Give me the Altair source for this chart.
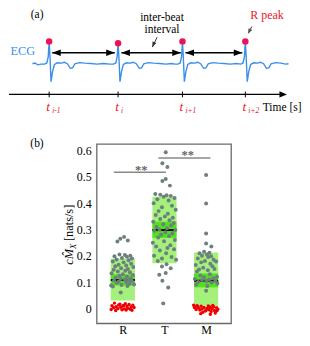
import altair as alt
import pandas as pd

SERIF = "Liberation Serif"
BLUE = "#3b8fe8"
RED = "#e8192c"
PEAK = "#ee1155"
GRAY_PT = "#6e7f80"
LIGHT_G = "#a3f07a"
DARK_G = "#4fe31a"

# ---------------- panel (a): ECG schematic ----------------
ecg_t = [
    -0.22, -0.19, -0.15, -0.11,
    -0.06, -0.03, -0.012, 0.0, 0.012, 0.025, 0.045, 0.07, 0.11, 0.16, 0.20, 0.24, 0.28, 0.31, 0.34, 0.40, 0.47, 0.55, 0.63, 0.72, 0.80,
    0.85, 0.88, 0.898, 0.91, 0.922, 0.935, 0.955, 0.98, 1.02, 1.07, 1.11, 1.15, 1.19, 1.22, 1.25, 1.31, 1.38, 1.46, 1.54, 1.62, 1.66,
    1.70, 1.73, 1.748, 1.76, 1.772, 1.785, 1.805, 1.83, 1.87, 1.92, 1.96, 2.00, 2.04, 2.07, 2.10, 2.16, 2.23, 2.31, 2.39, 2.47,
    2.53, 2.56, 2.578, 2.59, 2.602, 2.615, 2.635, 2.66, 2.70, 2.75, 2.79, 2.83, 2.87, 2.90, 2.93, 2.99, 3.06, 3.12, 3.16]
ecg_v = [
    0.02, 0.06, -0.04, 0.0,
    0.0, 0.06, 0.4, 1.2, 0.3, -0.93, -0.4, -0.02, 0.07, 0.05, 0.1, 0.02, -0.22, -0.2, 0.02, 0.08, 0.05, 0.03, 0.0, 0.03, 0.0,
    0.0, 0.06, 0.4, 1.1, 0.3, -0.93, -0.4, -0.02, 0.07, 0.05, 0.1, 0.02, -0.22, -0.2, 0.02, 0.08, 0.05, 0.03, 0.0, 0.03, 0.0,
    0.0, 0.06, 0.4, 1.2, 0.3, -0.93, -0.4, -0.02, 0.07, 0.05, 0.1, 0.02, -0.22, -0.2, 0.02, 0.08, 0.05, 0.03, 0.0, 0.03,
    0.0, 0.06, 0.4, 1.2, 0.3, -0.93, -0.4, -0.02, 0.07, 0.05, 0.1, 0.02, -0.22, -0.2, 0.02, 0.08, 0.05, 0.0, 0.02]
peak_t = [0.0, 0.91, 1.76, 2.59]
peak_v = [1.2, 1.1, 1.2, 1.2]
sub_labels = ["i-1", "i", "i+1", "i+2"]
ibi_t1 = [0.041, 0.954, 1.80]
ibi_t2 = [0.866, 1.738, 2.55]
ibi_v = [0.6, 0.6, 0.6]
time_axis_t = [-0.53, 3.09]
time_axis_v = -1.6
tick_v = [-1.45, -1.75]

xs_a = alt.Scale(domain=[-0.53, 3.338], nice=False, zero=False)
ys_a = alt.Scale(domain=[-3.803, 2.934], nice=False, zero=False)


def XA(f):
    return alt.X(f"{f}:Q", scale=xs_a, axis=None)


def YA(f):
    return alt.Y(f"{f}:Q", scale=ys_a, axis=None)


def pt(t, v):
    return pd.DataFrame({"t": t if isinstance(t, list) else [t], "v": v if isinstance(v, list) else [v]})


RIGHT_HEAD = "M-1,-0.75L1,0L-1,0.75Z"
LEFT_HEAD = "M1,-0.75L-1,0L1,0.75Z"
DOWN_HEAD = "M-0.8,-1L0,1L0.8,-1Z"

ecg = alt.Chart(pt(ecg_t, ecg_v)).mark_line(color=BLUE, strokeWidth=1.4).encode(x=XA("t"), y=YA("v"))
peaks = alt.Chart(pt(peak_t, peak_v)).mark_point(filled=True, color=PEAK, size=42, opacity=1).encode(x=XA("t"), y=YA("v"))

ibi_df = pd.DataFrame({"t": ibi_t1, "t2": ibi_t2, "v": ibi_v})
ibi_lines = alt.Chart(ibi_df).mark_rule(color="black", strokeWidth=1.4).encode(x=XA("t"), x2="t2", y=YA("v"))
head_l = alt.Chart(pt([a + 0.056 for a in ibi_t1], ibi_v)).mark_point(
    shape=LEFT_HEAD, filled=True, color="black", size=74, opacity=1).encode(x=XA("t"), y=YA("v"))
head_r = alt.Chart(pt([b - 0.056 for b in ibi_t2], ibi_v)).mark_point(
    shape=RIGHT_HEAD, filled=True, color="black", size=74, opacity=1).encode(x=XA("t"), y=YA("v"))

tax = alt.Chart(pd.DataFrame({"t": [time_axis_t[0]], "t2": [time_axis_t[1]], "v": [time_axis_v]})).mark_rule(
    color="black", strokeWidth=1.2).encode(x=XA("t"), x2="t2", y=YA("v"))
tax_head = alt.Chart(pt(time_axis_t[1], time_axis_v)).mark_point(
    shape="M-1,-0.8L1,0L-1,0.8Z", filled=True, color="black", size=58, opacity=1).encode(x=XA("t"), y=YA("v"))
ticks_df = pd.DataFrame({"t": peak_t, "v": [tick_v[0]] * 4, "v2": [tick_v[1]] * 4})
ticks = alt.Chart(ticks_df).mark_rule(color="black", strokeWidth=1).encode(x=XA("t"), y=YA("v"), y2="v2")

tlab = alt.Chart(pt(peak_t, [-2.5] * 4)).mark_text(
    text="t", font=SERIF, fontStyle="italic", fontSize=13.5, color=RED, align="center", baseline="alphabetic", dx=-1
).encode(x=XA("t"), y=YA("v"))
sub_df = pd.DataFrame({"t": peak_t, "v": [-2.6] * 4, "s": sub_labels})
tsub = alt.Chart(sub_df).mark_text(
    font=SERIF, fontStyle="italic", fontSize=7.5, color=RED, align="left", baseline="alphabetic", dx=3
).encode(x=XA("t"), y=YA("v"), text="s:N")

time_lbl = alt.Chart(pt(2.82, -2.45)).mark_text(
    text="Time [s]", font=SERIF, fontSize=11.5, color="black", align="left", baseline="alphabetic").encode(x=XA("t"), y=YA("v"))
ecg_lbl = alt.Chart(pt(-0.51, 0.685)).mark_text(
    text="ECG", font=SERIF, fontSize=12.4, color=BLUE, align="left", baseline="middle").encode(x=XA("t"), y=YA("v"))
a_lbl = alt.Chart(pt(-0.159, 2.57)).mark_text(
    text="(a)", font=SERIF, fontSize=11.5, color="black", align="center", baseline="middle").encode(x=XA("t"), y=YA("v"))
ib1 = alt.Chart(pt(1.49, 2.43)).mark_text(
    text="inter-beat", font=SERIF, fontSize=11.5, color="black",
    align="center", baseline="middle").encode(x=XA("t"), y=YA("v"))
ib2 = alt.Chart(pt(1.49, 1.78)).mark_text(
    text="interval", font=SERIF, fontSize=11.5, color="black",
    align="center", baseline="middle").encode(x=XA("t"), y=YA("v"))
rp = alt.Chart(pt(2.876, 2.6)).mark_text(
    text="R peak", font=SERIF, fontSize=12, color=RED, align="center", baseline="middle").encode(x=XA("t"), y=YA("v"))

ptr_df = pd.DataFrame({"t": [1.425, 2.675], "t2": [1.3625, 2.633], "v": [1.42, 1.985], "v2": [0.9, 1.65]})
ptr = alt.Chart(ptr_df).mark_rule(color="#333333", strokeWidth=1).encode(x=XA("t"), x2="t2", y=YA("v"), y2="v2")
ptr_h1 = alt.Chart(pt(1.376, 1.025)).mark_point(
    shape=DOWN_HEAD, filled=True, color="#333333", size=28, angle=23, opacity=1).encode(x=XA("t"), y=YA("v"))
ptr_h2 = alt.Chart(pt(2.641, 1.725)).mark_point(
    shape=DOWN_HEAD, filled=True, color="#555555", size=28, angle=27, opacity=1).encode(x=XA("t"), y=YA("v"))

top = alt.layer(ecg, ibi_lines, head_l, head_r, peaks, tax, tax_head, ticks, tlab, tsub, time_lbl,
                ecg_lbl, a_lbl, ib1, ib2, rp, ptr, ptr_h1, ptr_h2).properties(width=294, height=128)

# ---------------- panel (b): cM_X distribution ----------------
groups = ["R", "T", "M"]
group_pos = [1, 2, 3]
box_lo = [0.03, 0.172, 0.01]
box_hi = [0.19, 0.425, 0.213]
ci_lo = [0.087, 0.268, 0.08]
ci_hi = [0.13, 0.33, 0.133]
medians = [0.108, 0.298, 0.105]

rg_y = [0.272, 0.265, 0.258, 0.254, 0.205, 0.203, 0.200, 0.198, 0.196, 0.192, 0.190, 0.186, 0.183,
        0.178, 0.175, 0.170, 0.166, 0.163, 0.160, 0.157, 0.153, 0.150, 0.147,
        0.143, 0.140, 0.137, 0.134, 0.130, 0.127, 0.124, 0.120, 0.117, 0.114,
        0.112, 0.110, 0.108, 0.106, 0.104, 0.102, 0.100, 0.097, 0.094, 0.091,
        0.089, 0.087, 0.085, 0.083, 0.060]
rg_dx = [0.03, -0.06, 0.12, -0.13, -0.08, 0.05, 0.18, -0.2, 0.1, -0.02, 0.22, -0.15, 0.14,
         -0.24, 0.02, 0.2, -0.1, 0.08, -0.18, 0.25, -0.04, 0.12, -0.22,
         0.06, -0.12, 0.17, -0.27, 0.0, 0.24, -0.08, 0.1, -0.17, 0.19,
         -0.05, 0.05, 0.14, -0.21, 0.22, -0.1, 0.08, -0.14, 0.16, 0.27,
         -0.03, -0.28, 0.11, -0.24, -0.05]
rr_y = [0.02, 0.018, 0.015, 0.013, 0.012, 0.01, 0.009, 0.008, 0.006, 0.005, 0.004, 0.003, 0.002, 0.0,
        -0.001, -0.002, -0.003, -0.004, -0.005, -0.006, -0.007, -0.008, 0.016, 0.011]
rr_dx = [-0.2, 0.06, 0.15, -0.1, 0.24, -0.26, 0.0, 0.1, -0.16, 0.2, -0.05, 0.27, -0.22, 0.12,
         -0.12, 0.04, 0.18, -0.28, -0.02, 0.08, 0.22, -0.17, -0.07, 0.02]
tg_y = [0.594, 0.552, 0.538, 0.492, 0.485, 0.467,
        0.435, 0.432, 0.430, 0.428, 0.425, 0.420, 0.415, 0.410, 0.400, 0.390,
        0.385, 0.375, 0.370, 0.360, 0.355, 0.350, 0.345, 0.340, 0.335, 0.330,
        0.325, 0.320, 0.315, 0.310, 0.305, 0.300, 0.298, 0.295, 0.290, 0.285,
        0.280, 0.275, 0.270, 0.260, 0.255, 0.250, 0.240, 0.235, 0.230, 0.225,
        0.220, 0.210, 0.200, 0.195, 0.190, 0.185, 0.180,
        0.168, 0.159, 0.153, 0.135, 0.128, 0.105, 0.079, 0.019]
tg_dx = [0.03, -0.05, 0.07, 0.03, -0.05, 0.13,
         -0.22, -0.1, 0.05, 0.15, -0.02, 0.24, -0.17, 0.1, -0.26, 0.18,
         -0.06, 0.27, -0.14, 0.08, -0.21, 0.01, 0.2, -0.1, 0.12, -0.27,
         0.22, -0.03, 0.16, -0.19, 0.06, -0.12, 0.26, -0.24, 0.02, 0.19,
         -0.08, 0.11, -0.15, 0.25, -0.01, -0.28, 0.14, -0.2, 0.07, 0.23,
         -0.11, 0.04, -0.25, 0.17, -0.06, 0.28, -0.16,
         0.05, -0.06, 0.15, 0.03, -0.125, -0.05, 0.09, -0.03]
mg_y = [0.507, 0.399, 0.285, 0.247, 0.235, 0.215, 0.212, 0.21, 0.205, 0.2,
        0.198, 0.195, 0.19, 0.185, 0.18, 0.178, 0.175, 0.17, 0.165, 0.16,
        0.155, 0.15, 0.148, 0.145, 0.14, 0.13, 0.125, 0.12, 0.118, 0.115,
        0.112, 0.11, 0.108, 0.105, 0.103, 0.1, 0.098, 0.095, 0.09, 0.085, 0.067]
mg_dx = [0.0, 0.0, 0.0, 0.0, 0.125, -0.05, 0.08, -0.16, 0.02, -0.1,
         0.12, 0.05, -0.2, 0.18, -0.03, 0.24, -0.12, 0.1, -0.25, 0.15,
         -0.07, 0.2, -0.17, 0.04, -0.22, 0.09, -0.14, 0.26, -0.05, 0.17,
         -0.27, 0.07, -0.1, 0.22, 0.0, -0.19, 0.13, 0.27, -0.24, 0.03, 0.0]
mr_y = [0.012, 0.01, 0.009, 0.008, 0.006, 0.005, 0.004, 0.003, 0.002, 0.001,
        0.0, -0.001, -0.002, -0.003, -0.004, -0.005, -0.006, -0.008, -0.01, -0.012,
        -0.015, -0.018, -0.022, 0.007, 0.011, -0.007, 0.003, -0.009, -0.02, 0.005]
mr_dx = [-0.3, -0.22, 0.05, -0.12, 0.18, -0.27, 0.1, -0.05, 0.25, -0.18,
         0.02, 0.14, -0.1, 0.28, -0.24, 0.07, -0.15, 0.2, -0.02, 0.12,
         -0.08, 0.22, 0.1, -0.2, 0.16, 0.0, -0.28, 0.26, -0.13, 0.08]

sig_x1 = [0.784, 1.852]
sig_x2 = [2.034, 3.102]
sig_y = [0.518, 0.572]
star_x = [1.44, 2.557]
star_y = [0.512, 0.567]
frame_x = [0.376, 3.602]
frame_y = [-0.0575, 0.625]
y_ticks = [0, 0.1, 0.2, 0.3, 0.4, 0.5, 0.6]

HALF = 0.29
xs_b = alt.Scale(domain=[-1.732, 5.301], nice=False, zero=False)
ys_b = alt.Scale(domain=[-0.0575, 0.625], nice=False, zero=False)
yaxis = alt.Axis(values=y_ticks, labelExpr="datum.value == 0 ? '0' : format(datum.value, '.1f')",
                 offset=-88, domain=False, grid=False, ticks=False, tickSize=0, labelPadding=5.5,
                 labelFont=SERIF, labelFontSize=12, labelColor="black", title=None)
xaxis = alt.Axis(values=group_pos, labelExpr="datum.value == 1 ? 'R' : datum.value == 2 ? 'T' : 'M'",
                 domain=False, grid=False, ticks=False, tickSize=0, labelPadding=1,
                 labelFont=SERIF, labelFontSize=12, labelColor="black", title=None)


def XB(f):
    return alt.X(f"{f}:Q", scale=xs_b, axis=xaxis)


def YB(f):
    return alt.Y(f"{f}:Q", scale=ys_b, axis=yaxis)


box_df = pd.DataFrame({
    "x1": [p - HALF for p in group_pos], "x2": [p + HALF for p in group_pos],
    "lo": box_lo, "hi": box_hi, "clo": ci_lo, "chi": ci_hi, "med": medians})
boxes = alt.Chart(box_df).mark_rect(color=LIGHT_G, opacity=1).encode(x=XB("x1"), x2="x2", y=YB("lo"), y2="hi")
cis = alt.Chart(box_df).mark_rect(color=DARK_G, opacity=1).encode(x=XB("x1"), x2="x2", y=YB("clo"), y2="chi")
meds = alt.Chart(box_df).mark_rule(color="black", strokeWidth=2).encode(x=XB("x1"), x2="x2", y=YB("med"))


def pts(pos, ys, dxs):
    return pd.DataFrame({"x": [pos + d for d in dxs], "y": ys})


gray_df = pd.concat([pts(1, rg_y, rg_dx), pts(2, tg_y, tg_dx), pts(3, mg_y, mg_dx)])
red_df = pd.concat([pts(1, rr_y, rr_dx), pts(3, mr_y, mr_dx)])
gray_pts = alt.Chart(gray_df).mark_circle(color=GRAY_PT, size=16, opacity=1).encode(x=XB("x"), y=YB("y"))
red_pts = alt.Chart(red_df).mark_circle(color="#ee0000", size=12, opacity=1).encode(x=XB("x"), y=YB("y"))

frame = alt.Chart(pd.DataFrame({"x1": [frame_x[0]], "x2": [frame_x[1]], "lo": [frame_y[0]], "hi": [frame_y[1]]})).mark_rect(
    fill="transparent", stroke="#6a6a6a", strokeWidth=1.3).encode(x=XB("x1"), x2="x2", y=YB("lo"), y2="hi")

sig_df = pd.DataFrame({"x1": sig_x1, "x2": sig_x2, "y": sig_y})
sig = alt.Chart(sig_df).mark_rule(color="#888888", strokeWidth=1.4).encode(x=XB("x1"), x2="x2", y=YB("y"))
stars = alt.Chart(pd.DataFrame({"x": star_x, "y": star_y})).mark_text(
    text="**", font=SERIF, fontSize=12.5, fontWeight="bold", color="#666666", align="center", baseline="alphabetic"
).encode(x=XB("x"), y=YB("y"))

b_lbl = alt.Chart(pd.DataFrame({"x": [-1.06], "y": [0.626]})).mark_text(
    text="(b)", font=SERIF, fontSize=11.5, color="black", align="center", baseline="middle").encode(x=XB("x"), y=YB("y"))

one = pd.DataFrame({"a": [0]})
yt1 = alt.Chart(one).mark_text(text="cM\u0302", font=SERIF, fontStyle="italic", fontSize=12.4, color="black",
                               angle=270, align="left", baseline="alphabetic").encode(x=alt.value(64.6), y=alt.value(121))
yt2 = alt.Chart(one).mark_text(text="X", font=SERIF, fontStyle="italic", fontSize=8.5, color="black",
                               angle=270, align="left", baseline="alphabetic").encode(x=alt.value(67.5), y=alt.value(105.3))
yt3 = alt.Chart(one).mark_text(text="[nats/s]", font=SERIF, fontSize=12.4, color="black",
                               angle=270, align="left", baseline="alphabetic").encode(x=alt.value(64.6), y=alt.value(97.3))

bottom = alt.layer(boxes, cis, meds, gray_pts, red_pts, frame, sig, stars, b_lbl, yt1, yt2, yt3).properties(
    width=294, height=180)

chart = alt.vconcat(top, bottom, spacing=8, bounds="flush").properties(padding=0).configure_view(stroke=None)

chart.save("out.html", embed_options={"renderer": "svg", "actions": False})
